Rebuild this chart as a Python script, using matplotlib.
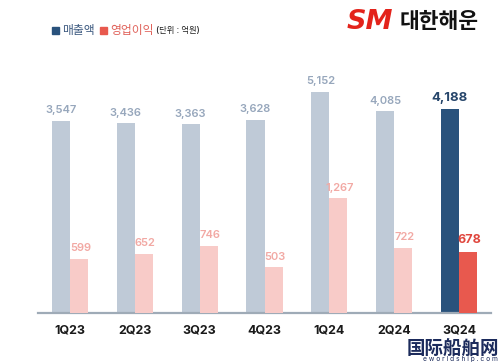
import matplotlib
matplotlib.use('Agg')
import matplotlib.pyplot as plt
import numpy as np

plt.rcParams['font.family'] = ['Inter', 'Noto Sans CJK KR', 'DejaVu Sans']

# 분기별 실적 (단위: 억원)
quarters = ['1Q23', '2Q23', '3Q23', '4Q23', '1Q24', '2Q24', '3Q24']
revenue = [3547, 3436, 3363, 3628, 5152, 4085, 4188]
profit = [599, 652, 746, 503, 1267, 722, 678]

rev_light, rev_dark = '#bfcad7', '#29527c'
pro_light, pro_dark = '#f8cbc8', '#e8594e'
rev_txt, rev_txt_dark = '#97a7bc', '#27466b'
pro_txt, pro_txt_dark = '#f2a9a4', '#e0473e'

fig = plt.figure(figsize=(5.0, 3.63), dpi=100)
ax = fig.add_axes([0.076, 0.1377, 0.906, 0.697])
ax2 = ax.twinx()

x = np.arange(len(quarters))
w = 0.278
last = len(quarters) - 1
rev_base = -7000  # 매출액 축은 0에서 시작하지 않음 (원본 비율)

rev_cols = [rev_dark if i == last else rev_light for i in x]
pro_cols = [pro_dark if i == last else pro_light for i in x]

ax.bar(x - w / 2, np.array(revenue) - rev_base, w, bottom=rev_base, color=rev_cols, zorder=2)
ax2.bar(x + w / 2, profit, w, color=pro_cols, zorder=2)

ax.set_ylim(rev_base, 6900)
ax2.set_ylim(0, 2796)
ax.set_xlim(-0.494, 6.494)
ax2.set_xlim(-0.494, 6.494)

for i in x:
    bold = i == last
    ax.annotate(f'{revenue[i]:,}', (i - w / 2, revenue[i]), xytext=(0, 4),
                textcoords='offset points', ha='center', va='bottom',
                fontsize=9.5 if bold else 8, fontweight='bold' if bold else 'semibold',
                color=rev_txt_dark if bold else rev_txt)
    ax2.annotate(f'{profit[i]:,}', (i + w / 2, profit[i]), xytext=(1, 4),
                 textcoords='offset points', ha='center', va='bottom',
                 fontsize=9 if bold else 8, fontweight='bold' if bold else 'semibold',
                 color=pro_txt_dark if bold else pro_txt)

for a in (ax, ax2):
    for s in ['top', 'right', 'left']:
        a.spines[s].set_visible(False)
    a.set_yticks([])
ax2.spines['bottom'].set_visible(False)
ax.spines['bottom'].set_color('#9fabb7')
ax.spines['bottom'].set_linewidth(1.6)
ax.set_xticks(x)
ax.set_xticklabels(quarters, fontsize=9, fontweight='bold', color='#1a1a1a')
ax.tick_params(axis='x', length=0, pad=8)

# 범례
fig.patches.append(plt.Rectangle((52 / 500, 1 - 34 / 363), 7 / 500, 7 / 363,
                                 transform=fig.transFigure, color=rev_dark))
fig.text(62 / 500, 1 - 31 / 363, '매출액', fontsize=8.5, color='#3d5a80', va='center',
         fontweight='medium')
fig.patches.append(plt.Rectangle((100 / 500, 1 - 34 / 363), 7 / 500, 7 / 363,
                                 transform=fig.transFigure, color=pro_dark))
fig.text(110 / 500, 1 - 31 / 363, '영업이익', fontsize=8.5, color='#e0625a', va='center',
         fontweight='medium')
fig.text(156 / 500, 1 - 31 / 363, '(단위 : 억원)', fontsize=6, color='#222222', va='center',
         fontweight='medium')

# 로고
fig.text(347 / 500, 1 - 22 / 363, 'SM', fontsize=19.5, fontweight='heavy', style='italic',
         color='#e3231b', va='center', family=['DejaVu Sans'])
fig.text(400 / 500, 1 - 22 / 363, '대한해운', fontsize=15.5, fontweight='black',
         color='#111111', va='center')

# 워터마크
fig.text(499 / 500, 1 - 348 / 363, '国际船舶网', fontsize=13.3, fontweight='bold',
         color='#1c2b5c', ha='right', va='center', family=['Noto Sans CJK SC'])
fig.text(498 / 500, 1 - 359 / 363, 'e w o r l d s h i p . c o m', fontsize=4.8,
         color='#1c2b5c', ha='right', va='center')

fig.savefig('out.png', dpi=100)
